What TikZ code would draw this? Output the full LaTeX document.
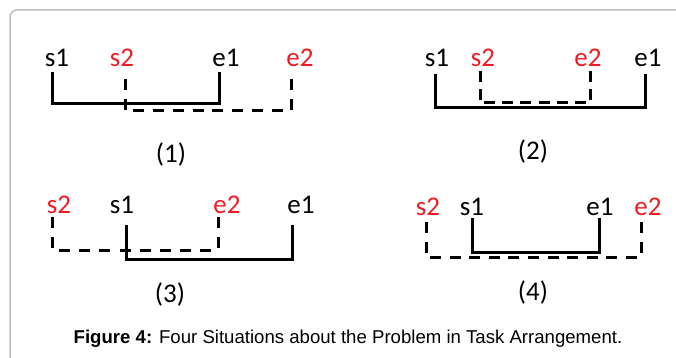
\documentclass[tikz,border=0pt]{standalone}
\usepackage{fontspec}
\setmainfont{Carlito}
\newfontfamily\capfont{Liberation Sans}
\definecolor{lblred}{RGB}{237,28,36}
\definecolor{framegray}{RGB}{190,190,190}
\begin{document}
\begin{tikzpicture}[x=1pt,y=-1pt,
  lbl/.style={anchor=base,inner sep=0pt,font=\fontsize{27}{32}\selectfont},
  redlbl/.style={lbl,text=lblred},
  num/.style={anchor=base,inner sep=0pt,font=\fontsize{27}{32}\selectfont},
  solidline/.style={line width=3pt,line join=miter},
  dashfit/.style={line width=3pt,dash pattern=on 11pt off #1,line join=miter}]
\useasboundingbox (0,0) rectangle (676,358);
\begin{scope}
\clip (0,0) rectangle (676,358);
\draw[framegray,line width=1.5pt,rounded corners=7pt] (10,10) rectangle (720,420);
\end{scope}
% panel 1
\node[lbl] (a1) at (57,67) {s1};
\node[redlbl] (a2) at (122,67) {s2};
\node[lbl] (a3) at (226,67) {e1};
\node[redlbl] (a4) at (300,67) {e2};
\coordinate (a1t) at (52,72); \coordinate (a3t) at (219,72);
\coordinate (a2t) at (125,79); \coordinate (a4t) at (291,79);
\draw[solidline] (a1t) -- (52,104) -| (a3t);
\draw[dashfit=8.9pt] (a2t) -- (125,111) -| (a4t);
\node[num] (n1) at (171,162) {(1)};
% panel 2
\node[lbl] (b1) at (437,67) {s1};
\node[redlbl] (b2) at (483,67) {s2};
\node[redlbl] (b4) at (588,67) {e2};
\node[lbl] (b3) at (648,67) {e1};
\coordinate (b1t) at (435,74); \coordinate (b3t) at (645,74);
\coordinate (b2t) at (480,71); \coordinate (b4t) at (590,71);
\draw[solidline] (b1t) -- (435,108) -| (b3t);
\draw[dashfit=7.1pt] (b2t) -- (480,103) -| (b4t);
\node[num] (n2) at (533,160) {(2)};
% panel 3
\node[redlbl] (c2) at (59,213) {s2};
\node[lbl] (c1) at (122,213) {s1};
\node[redlbl] (c4) at (227,213) {e2};
\node[lbl] (c3) at (301,213) {e1};
\coordinate (c2t) at (52,217); \coordinate (c4t) at (218,217);
\coordinate (c1t) at (126,225); \coordinate (c3t) at (292,225);
\draw[dashfit=9.1pt] (c2t) -- (52,250) -| (c4t);
\draw[solidline] (c1t) -- (126,259) -| (c3t);
\node[num] (n3) at (170,302) {(3)};
% panel 4
\node[redlbl] (d2) at (428,215) {s2};
\node[lbl] (d1) at (472,215) {s1};
\node[lbl] (d3) at (600,215) {e1};
\node[redlbl] (d4) at (648,215) {e2};
\coordinate (d2t) at (426,222); \coordinate (d4t) at (641,222);
\coordinate (d1t) at (472,218); \coordinate (d3t) at (599,218);
\draw[dashfit=8.57pt] (d2t) -- (426,257) -| (d4t);
\draw[solidline] (d1t) -- (472,252) -| (d3t);
\node[num] (n4) at (533,300) {(4)};
% caption
\node[anchor=center,inner sep=0pt,font=\capfont\fontsize{18.6}{22}\selectfont] (cap) at (348,339)
  {\textbf{Figure 4:} Four Situations about the Problem in Task Arrangement.};
\end{tikzpicture}
\end{document}
